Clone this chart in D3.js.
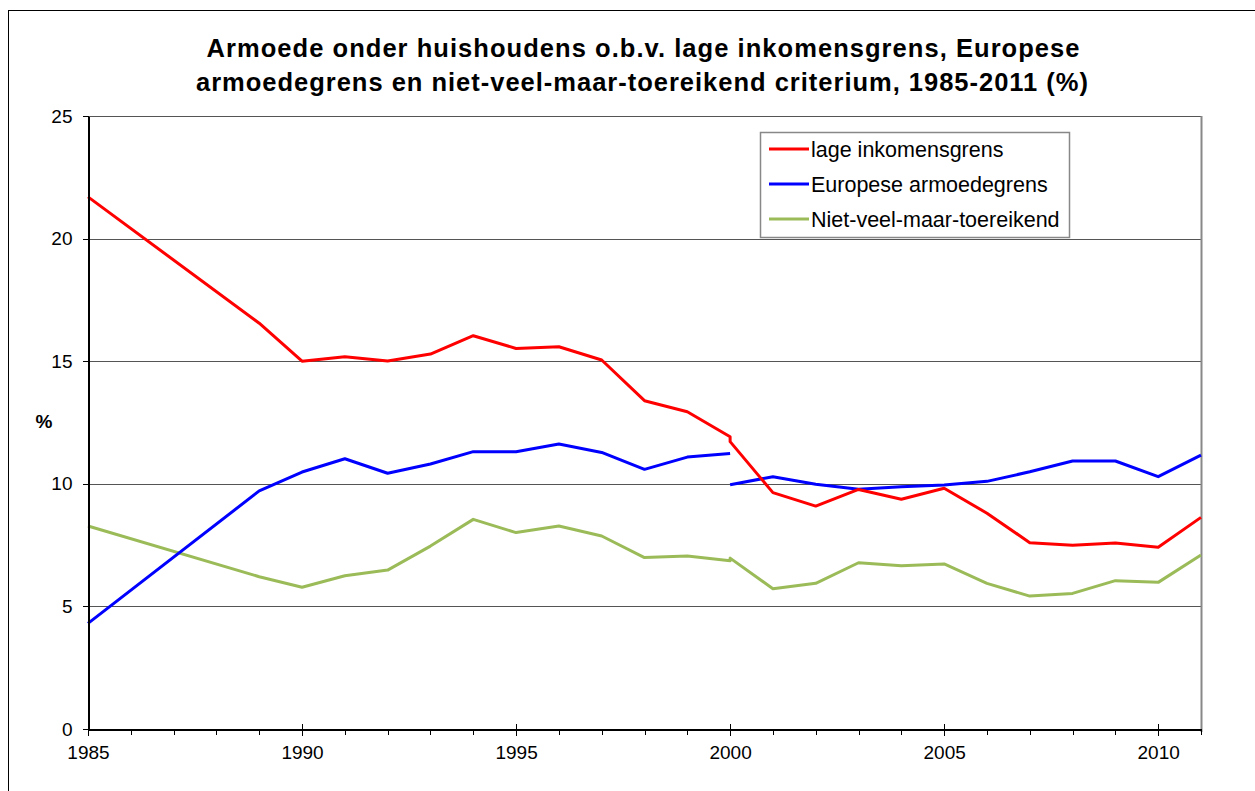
<!doctype html>
<html>
<head>
<meta charset="utf-8">
<script src="https://cdnjs.cloudflare.com/ajax/libs/d3/7.8.5/d3.min.js"></script>
<style>
body { margin: 0; background: #fff; }
svg { font-family: "Liberation Sans", Arial, sans-serif; }
.grid line { stroke: #555; stroke-width: 1px; shape-rendering: crispEdges; }
.axis path, .axis line { stroke: #000; shape-rendering: crispEdges; }
.axis text { font-size: 19px; fill: #000; }
.series { fill: none; stroke-width: 3px; stroke-linejoin: round; }
.legend text { font-size: 21.5px; }
</style>
</head>
<body>
<svg width="1255" height="791"></svg>
<script>
// years before and after the 2000 series break
var yearsOld = [1985, 1989, 1990, 1991, 1992, 1993, 1994, 1995, 1996, 1997, 1998, 1999, 2000];
var yearsNew = [2000, 2001, 2002, 2003, 2004, 2005, 2006, 2007, 2008, 2009, 2010, 2011];

var redOld = [21.7, 16.55, 15.0, 15.18, 15.01, 15.29, 16.04, 15.52, 15.59, 15.05, 13.39, 12.94, 11.92];
var redNew = [11.72, 9.64, 9.09, 9.77, 9.37, 9.82, 8.80, 7.60, 7.49, 7.59, 7.41, 8.63];
var blueOld = [4.31, 9.71, 10.48, 11.02, 10.43, 10.81, 11.31, 11.31, 11.62, 11.28, 10.59, 11.09, 11.24];
var blueNew = [9.96, 10.29, 9.98, 9.78, 9.88, 9.95, 10.10, 10.49, 10.93, 10.93, 10.29, 11.17];
var greenOld = [8.28, 6.21, 5.78, 6.25, 6.48, 7.46, 8.55, 8.01, 8.28, 7.87, 6.99, 7.06, 6.86];
var greenNew = [6.97, 5.72, 5.94, 6.78, 6.66, 6.73, 5.94, 5.42, 5.53, 6.05, 5.98, 7.10];

var seriesNames = ["lage inkomensgrens", "Europese armoedegrens", "Niet-veel-maar-toereikend"];
var seriesColors = ["#ff0000", "#0000ff", "#9bbb59"];
var yTicks = [0, 5, 10, 15, 20, 25];
var xLabelTicks = [1985, 1990, 1995, 2000, 2005, 2010];
var titleLines = ["Armoede onder huishoudens o.b.v. lage inkomensgrens, Europese",
                  "armoedegrens en niet-veel-maar-toereikend criterium, 1985-2011 (%)"];
var titleWidths = [873, 892];

var svg = d3.select("svg");

// outer chart border
svg.append("rect")
  .attr("x", 8.5).attr("y", 10.5)
  .attr("width", 1260).attr("height", 800)
  .attr("fill", "#fff").attr("stroke", "#000");

var x = d3.scaleLinear().domain([1985, 2011]).range([88, 1201]);
var y = d3.scaleLinear().domain([0, 25]).range([729, 116]);

// gridlines
svg.append("g").attr("class", "grid")
  .selectAll("line")
  .data(yTicks.slice(1))
  .enter().append("line")
  .attr("x1", x(1985)).attr("x2", x(2011))
  .attr("y1", d => Math.round(y(d)) + 0.5)
  .attr("y2", d => Math.round(y(d)) + 0.5);

// right side of plot area
svg.append("line")
  .attr("x1", x(2011) + 0.5).attr("x2", x(2011) + 0.5)
  .attr("y1", y(25)).attr("y2", y(0) + 3)
  .attr("stroke", "#888").attr("stroke-width", 2);

function toPoints(years, vals) {
  return years.map((yr, i) => ({year: yr, value: vals[i]}));
}

var line = d3.line().x(d => x(d.year)).y(d => y(d.value));

var paths = [
  {color: seriesColors[2], pts: toPoints(yearsOld, greenOld).concat(toPoints(yearsNew, greenNew))},
  {color: seriesColors[1], pts: toPoints(yearsOld, blueOld)},
  {color: seriesColors[1], pts: toPoints(yearsNew, blueNew)},
  {color: seriesColors[0], pts: toPoints(yearsOld, redOld).concat(toPoints(yearsNew, redNew))}
];

svg.append("g")
  .selectAll("path")
  .data(paths)
  .enter().append("path")
  .attr("class", "series")
  .attr("stroke", d => d.color)
  .attr("d", d => line(d.pts));

// y axis
var yAxis = svg.append("g")
  .attr("class", "axis")
  .attr("transform", "translate(88.5,0)")
  .call(d3.axisLeft(y).tickValues(yTicks).tickSizeInner(6).tickSizeOuter(0).tickPadding(10));
yAxis.select(".domain").attr("stroke-width", 1.5);

// x axis: minor ticks every year
svg.append("g")
  .attr("class", "axis")
  .attr("transform", "translate(0,729.5)")
  .call(d3.axisBottom(x).tickValues(d3.range(1985, 2012)).tickFormat("").tickSizeInner(5).tickSizeOuter(0))
  .call(g => g.select(".domain").attr("stroke", "#555").attr("stroke-width", 2.5));

// x axis: labelled major ticks
var xAxis = svg.append("g")
  .attr("class", "axis")
  .attr("transform", "translate(0,729.5)")
  .call(d3.axisBottom(x).tickValues(xLabelTicks).tickFormat(d3.format("d")).tickSizeInner(6).tickSizeOuter(0).tickPadding(10));
xAxis.select(".domain").remove();
xAxis.selectAll(".tick line").attr("y1", -6).attr("y2", 6);

// y label
svg.append("text")
  .attr("x", 44).attr("y", 428)
  .attr("text-anchor", "middle")
  .style("font-size", "19px").style("font-weight", "bold")
  .text("%");

// title
svg.append("g")
  .selectAll("text")
  .data(titleLines)
  .enter().append("text")
  .attr("x", (d, i) => 643 - titleWidths[i] / 2 + (i ? -1 : 0))
  .attr("y", (d, i) => 57 + i * 34)
  .attr("textLength", (d, i) => titleWidths[i])
  .attr("lengthAdjust", "spacing")
  .style("font-size", "25.5px").style("font-weight", "bold")
  .text(d => d);

// legend
var legend = svg.append("g").attr("class", "legend");
legend.append("rect")
  .attr("x", 760.5).attr("y", 132.5)
  .attr("width", 309).attr("height", 105)
  .attr("fill", "#fff").attr("stroke", "#888").attr("stroke-width", 1.5);

var item = legend.selectAll(".item")
  .data(seriesNames)
  .enter().append("g")
  .attr("transform", (d, i) => "translate(769," + (149 + i * 35) + ")");
item.append("line")
  .attr("x1", 0).attr("x2", 40)
  .attr("stroke", (d, i) => seriesColors[i])
  .attr("stroke-width", 3);
item.append("text")
  .attr("x", 42).attr("dy", "0.35em")
  .text(d => d);
</script>
</body>
</html>
